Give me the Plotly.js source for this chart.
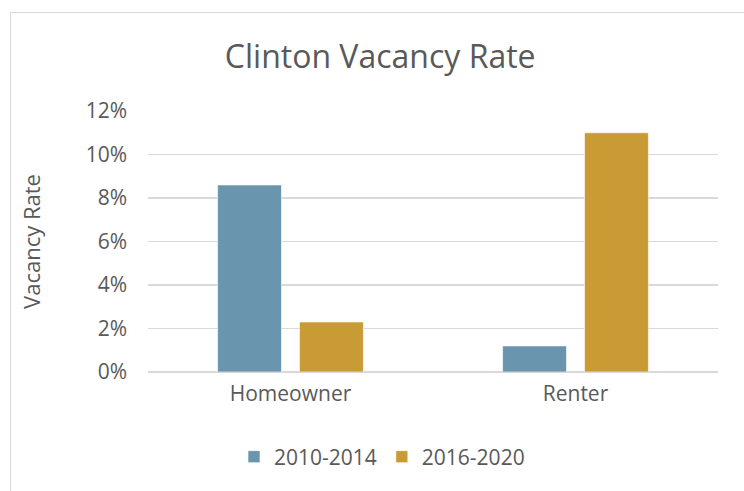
<!DOCTYPE html>
<html>
<head>
<meta charset="utf-8">
<script src="https://cdn.plot.ly/plotly-3.0.1.min.js"></script>
<style>
  html, body { margin: 0; padding: 0; background: #ffffff; }
  #wrap { position: relative; width: 744px; height: 491px; overflow: hidden; }
  #chart { position: absolute; left: 0; top: 0; width: 744px; height: 491px; }
  #frame { position: absolute; left: 10px; top: 12px; width: 800px; height: 600px;
           border: 1.5px solid #d9d9d9; pointer-events: none; }
</style>
</head>
<body>
<div id="wrap">
  <div id="chart"></div>
  <div id="frame"></div>
</div>
<script>
const categories = ["Homeowner", "Renter"];
const series1Name = "2010-2014";
const series1Values = [0.086, 0.012];
const series2Name = "2016-2020";
const series2Values = [0.023, 0.110];
const yTickValues = [0, 0.02, 0.04, 0.06, 0.08, 0.10, 0.12];
const yTickLabels = ["0%", "2%", "4%", "6%", "8%", "10%", "12%"];

const textColor = "#595959";
const fontFamily = "Open Sans, Noto Sans, sans-serif";

const traces = [
  {
    type: "bar", name: series1Name, x: categories, y: series1Values,
    marker: { color: "#6a95ae", line: { color: "rgba(255,255,255,0.6)", width: 1 } },
    hoverinfo: "skip"
  },
  {
    type: "bar", name: series2Name, x: categories, y: series2Values,
    marker: { color: "#c99b35", line: { color: "rgba(255,255,255,0.6)", width: 1 } },
    hoverinfo: "skip"
  }
];

const layout = {
  width: 744, height: 491,
  paper_bgcolor: "#ffffff", plot_bgcolor: "#ffffff",
  margin: { l: 148, r: 26, t: 111, b: 119 },
  font: { family: fontFamily, color: textColor, size: 21 },
  title: {
    text: "Clinton Vacancy Rate",
    font: { family: fontFamily, size: 32, color: textColor },
    x: 0.511, xref: "container", xanchor: "center",
    y: 1 - 57 / 491, yref: "container", yanchor: "middle"
  },
  barmode: "group",
  bargap: 0.425,
  bargroupgap: 0.22,
  xaxis: {
    type: "category",
    showgrid: false, zeroline: false, showline: false, ticks: "",
    tickfont: { size: 21, color: textColor },
    ticklabelstandoff: 7,
    automargin: false
  },
  yaxis: {
    range: [0, 0.12],
    tickvals: yTickValues, ticktext: yTickLabels,
    showgrid: true, gridcolor: "#d9d9d9", gridwidth: 1.5,
    zeroline: true, zerolinecolor: "#d9d9d9", zerolinewidth: 1.5,
    showline: false, ticks: "",
    tickfont: { size: 21, color: textColor },
    ticklabelstandoff: 20,
    automargin: false,
    title: { text: "Vacancy Rate", font: { size: 22, color: textColor }, standoff: 38 }
  },
  showlegend: true,
  legend: {
    orientation: "h",
    x: 382 / 744, xref: "container", xanchor: "center",
    y: 1 - 457 / 491, yref: "container", yanchor: "middle",
    font: { size: 21, color: textColor },
    itemwidth: 30,
    traceorder: "normal"
  }
};

Plotly.newPlot("chart", traces, layout, { displayModeBar: false, staticPlot: true });
</script>
</body>
</html>
